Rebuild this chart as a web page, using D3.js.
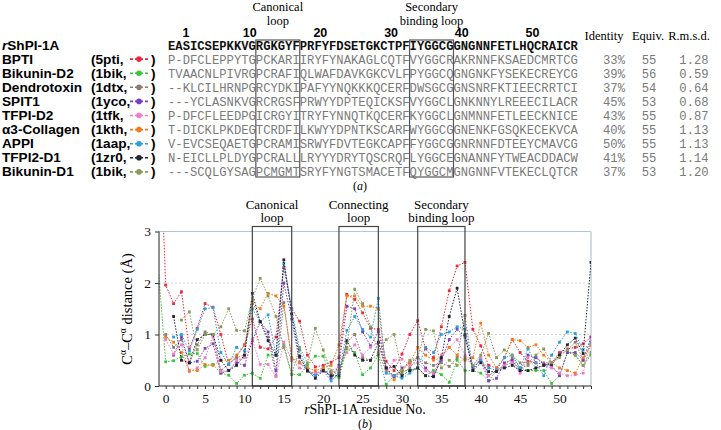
<!DOCTYPE html>
<html><head><meta charset="utf-8">
<script src="https://cdn.jsdelivr.net/npm/d3@7"></script>
<style>body{margin:0;background:#fff} svg{display:block}</style>
</head><body><svg id="c" width="721" height="430"></svg>
<script>
// ---------- data ----------
const names = ["BPTI","Bikunin-D2","Dendrotoxin","SPIT1","TFPI-D2","α3-Collagen","APPI","TFPI2-D1","Bikunin-D1"];
const pdbCodes = ["5pti","1bik","1dtx","1yco","1tfk","1kth","1aap","1zr0","1bik"];
const seriesColors = ["#e8283c","#3cc23c","#8b7d6b","#7a3fc0","#f07ac8","#f07a1e","#2a9fe0","#1e2430","#8a9a5b"];
const refName = "ShPI-1A";
const refSeq = "EASICSEPKKVGRGKGYFPRFYFDSETGKCTPFIYGGCGGNGNNFETLHQCRAICR";
const seqs = [
 "P-DFCLEPPYTGPCKARIIRYFYNAKAGLCQTFVYGGCRAKRNNFKSAEDCMRTCG",
 "TVAACNLPIVRGPCRAFIQLWAFDAVKGKCVLFPYGGCQGNGNKFYSEKECREYCG",
 "--KLCILHRNPGRCYDKIPAFYYNQKKKQCERFDWSGCGGNSNRFKTIEECRRTCI",
 "---YCLASNKVGRCRGSFPRWYYDPTEQICKSFVYGGCLGNKNNYLREEECILACR",
 "P-DFCFLEEDPGICRGYITRYFYNNQTKQCERFKYGGCLGNMNNFETLEECKNICE",
 "T-DICKLPKDEGTCRDFILKWYYDPNTKSCARFWYGGCGGNENKFGSQKECEKVCA",
 "V-EVCSEQAETGPCRAMISRWYFDVTEGKCAPFFYGGCGGNRNNFDTEEYCMAVCG",
 "N-EICLLPLDYGPCRALLLRYYYDRYTQSCRQFLYGGCEGNANNFYTWEACDDACW",
 "---SCQLGYSAGPCMGMTSRYFYNGTSMACETFQYGGCMGNGNNFVTEKECLQTCR"
];
const identity = ["33%","39%","37%","45%","43%","40%","50%","41%","37%"];
const equiv = ["55","56","54","53","55","55","55","55","53"];
const rmsd = ["1.28","0.59","0.64","0.68","0.87","1.13","1.13","1.14","1.20"];
const seqNumbers = [1,10,20,30,40,50];
const seqLoops = [{label:["Canonical","loop"], from:13, to:18},{label:["Secondary","binding loop"], from:34, to:39}];

const residues = d3.range(-1, 55);
const s_BPTI = [6.0, 1.96,1.6,1.83,0.72,1.12,1.6,1.53,1.0,0.42,0.58, 0.8,1.3,0.75,0.72,0.95,2.3,1.5,1.26,0.6,0.37, 0.4,0.46,0.55,1.78,1.68,1.42,1.12,1.1,0.48,0.3, 0.62,1.0,1.27,0.72,0.55,1.15,1.85,2.33,2.4,1.1, 0.78,0.4,0.35,0.55,0.9,0.65,0.48,0.45,0.42,0.45, 0.65,0.72,0.75,0.82,0.95];
const s_BikD2 = [2.4, 0.47,0.49,0.57,0.62,0.63,0.38,0.42,0.25,0.21,0.05, 0.21,0.25,0.15,0.6,0.6,0.8,0.23,0.22,0.4,0.58, 0.58,0.2,0.16,0.72,0.65,0.22,0.35,0.6,0.03,0.2, 0.3,0.3,0.35,0.2,0.3,0.22,0.07,0.5,0.3,0.3, 0.25,0.1,0.3,0.4,0.45,0.35,0.3,0.3,0.3,0.05, 0.2,0.65,0.6,0.4,0.65];
const s_Dendro = [null, 1.0,0.75,0.9,0.45,0.8,1.05,1.0,0.3,0.42,0.55, 0.6,1.65,1.25,0.95,0.2,1.62,0.5,0.55,0.28,0.25, 0.3,0.25,0.25,0.85,1.0,0.55,0.5,0.62,0.3,0.2, 0.25,0.35,0.55,0.45,0.4,0.45,0.38,0.55,1.37,0.3, 0.55,0.2,0.3,0.4,0.55,0.35,0.4,0.55,0.45,0.45, 0.6,0.7,0.85,0.5,0.8];
const s_SPIT1 = [null, null,0.6,0.95,0.45,0.48,0.73,0.82,0.25,0.3,0.45, 0.4,0.88,1.25,1.05,0.3,2.0,1.3,0.45,0.3,0.2, 0.35,0.15,0.4,1.55,1.5,1.05,0.78,1.05,0.35,0.18, 0.35,0.45,0.55,0.35,0.2,0.5,0.9,1.1,0.95,0.35, 0.5,0.1,0.15,0.45,0.5,0.3,0.6,0.55,0.42,0.4, 0.2,0.65,0.65,0.5,0.95];
const s_TFPID2 = [null, 0.9,0.62,0.8,0.28,0.35,0.55,0.95,0.28,0.3,0.5, 0.55,0.9,0.42,0.42,0.18,0.85,0.5,0.35,0.3,0.25, 0.28,0.3,0.35,0.65,0.8,0.6,0.75,0.85,0.25,0.5, 0.52,0.4,0.45,0.3,0.25,0.6,0.75,0.9,0.6,0.4, 0.55,0.2,0.3,0.4,0.45,0.25,0.55,0.35,0.4,0.35, 0.25,0.2,0.22,0.25,0.9];
const s_Coll = [null, 0.95,0.85,0.65,0.3,0.3,0.42,0.4,0.5,0.5,0.6, 0.78,1.6,1.5,1.8,1.75,1.55,0.55,0.45,0.35,0.3, 0.35,0.4,0.8,1.75,1.75,1.55,1.55,1.5,0.35,0.12, 0.3,0.45,0.75,0.6,0.5,0.55,0.75,0.6,0.5,0.55, 1.22,0.6,0.35,0.55,0.9,0.88,0.75,0.8,0.6,0.45, 0.35,0.3,0.25,0.55,0.8];
const s_APPI = [null, null,0.95,1.0,0.68,1.1,1.5,1.52,0.65,0.42,0.75, 0.68,1.5,1.25,1.38,0.6,2.38,1.5,0.7,0.3,0.2, 0.3,0.1,0.25,1.08,1.35,1.1,0.95,1.7,0.25,0.2, 0.15,0.25,0.35,0.75,0.65,1.0,1.05,1.15,1.1,0.38, 0.5,0.35,0.3,0.55,0.6,0.35,0.72,0.45,0.2,0.6, 0.85,1.05,1.02,0.7,0.85];
const s_TFPI2 = [null, null,1.35,0.5,0.45,0.9,1.0,1.0,0.5,0.3,0.4, 0.6,1.8,1.25,0.88,0.6,2.45,1.4,0.58,0.3,0.15, 0.3,0.2,0.2,0.88,0.6,0.5,0.5,0.85,0.35,0.38, 0.2,0.3,0.35,0.2,0.18,0.55,1.35,1.9,1.0,0.3, 0.45,0.28,0.28,0.35,0.4,0.3,0.3,0.35,0.4,0.42, 0.6,0.8,0.93,0.63,2.4];
const s_BikD1 = [null, null,null,1.28,1.44,0.7,1.0,1.0,1.15,1.5,1.08, 1.07,1.7,2.09,1.75,1.35,0.75,0.22,0.75,0.45,1.12, 0.7,0.28,0.3,0.75,1.88,1.6,1.15,0.65,0.9,1.0, 0.3,0.5,0.55,1.1,1.07,0.35,0.5,0.4,0.55,0.4, 0.6,1.02,0.55,0.7,0.6,0.45,0.45,0.6,0.72,0.45, 0.55,0.7,0.6,0.4,0.6];
const seriesValues = [s_BPTI,s_BikD2,s_Dendro,s_SPIT1,s_TFPID2,s_Coll,s_APPI,s_TFPI2,s_BikD1];
const plotLoops = [{label:["Canonical","loop"], from:11, to:16},{label:["Connecting","loop"], from:22, to:27},{label:["Secondary","binding loop"], from:32, to:38}];
const xTicks = [0,5,10,15,20,25,30,35,40,45,50];
const yTicks = [0,1,2,3];

// ---------- drawing ----------
const svg = d3.select("#c");
const SERIF = "'Liberation Serif','Times New Roman',serif";
const SANS = "'Liberation Sans',Arial,sans-serif";
const MONO = "'Liberation Mono','Courier New',monospace";

// bold label squeezed vertically: measure at 13.5px, draw at 12px stretched to that width
function boldLabel(g, xx, yy, build) {
  const t = g.append("text").attr("x", xx).attr("y", yy).attr("font-family", SANS).attr("font-weight", "bold").attr("font-size", 13.6);
  build(t);
  const w = t.node().getComputedTextLength();
  t.attr("font-size", 12).attr("textLength", w).attr("lengthAdjust", "spacingAndGlyphs");
  return t;
}

// panel (a)
const seqX0 = 168, cw = 7.32;
const rowY = k => 45 + 14.1 * k;
const charX = i => seqX0 + cw * i + cw / 2;
const a = svg.append("g");

seqLoops.forEach(l => {
  const cx = seqX0 + cw * (l.from - 1 + l.to) / 2;
  l.label.forEach((t, j) => a.append("text").attr("x", cx).attr("y", 11 + 14 * j)
    .attr("text-anchor", "middle").attr("font-family", SERIF).attr("font-size", 12.5).text(t));
});
seqNumbers.forEach(n => a.append("text").attr("x", seqX0 + cw * (n + 1.5) - n * 0.25).attr("y", 37)
  .attr("text-anchor", "middle").attr("font-family", SANS).attr("font-weight", "bold").attr("font-size", 12.5).text(n));
[["Identity", 604], ["Equiv.", 648], ["R.m.s.d.", 689]].forEach(([t, x]) =>
  a.append("text").attr("x", x).attr("y", 40).attr("text-anchor", "middle").attr("font-family", SERIF).attr("font-size", 12.5).text(t));

boldLabel(a, 2, rowY(0) + 4.5, t => { t.append("tspan").attr("font-style", "italic").text("r"); t.append("tspan").text(refName); });
a.append("g").selectAll("text").data(refSeq.split("")).join("text")
  .attr("x", (d, i) => charX(i)).attr("y", rowY(0) + 4.5).attr("text-anchor", "middle")
  .attr("font-family", MONO).attr("font-weight", "bold").attr("font-size", 12.2).attr("fill", "#111").text(d => d);

names.forEach((nm, k) => {
  const y = rowY(k + 1);
  boldLabel(a, 2, y + 4.5, t => t.text(nm));
  boldLabel(a, 91, y + 4.5, t => t.text("(" + pdbCodes[k] + ","));
  a.append("line").attr("x1", 130).attr("x2", 148).attr("y1", y).attr("y2", y).attr("stroke", seriesColors[k]).attr("stroke-width", 1.6).attr("stroke-dasharray", "3,2");
  a.append("circle").attr("cx", 139).attr("cy", y).attr("r", 2.8).attr("fill", seriesColors[k]);
  boldLabel(a, 151, y + 4.5, t => t.text(")"));
  a.append("g").selectAll("text").data(seqs[k].split("")).join("text")
    .attr("x", (d, i) => charX(i)).attr("y", y + 4.5).attr("text-anchor", "middle")
    .attr("font-family", MONO).attr("font-size", 12.2).attr("fill", "#7a7a7a").text(d => d);
  [[identity[k], 614], [equiv[k], 649], [rmsd[k], 694]].forEach(([t, x]) =>
    a.append("text").attr("x", x).attr("y", y + 4.5).attr("text-anchor", "middle").attr("font-family", MONO).attr("font-size", 12.2).attr("fill", "#7a7a7a").text(t));
});
seqLoops.forEach(l => a.append("rect").attr("x", seqX0 + cw * (l.from - 1)).attr("y", 40)
  .attr("width", cw * (l.to - l.from + 1)).attr("height", 137).attr("fill", "none").attr("stroke", "#555").attr("stroke-width", 1.2));
const al = a.append("text").attr("x", 360).attr("y", 190).attr("text-anchor", "middle").attr("font-family", SERIF).attr("font-size", 12);
al.append("tspan").text("(");
al.append("tspan").attr("font-style", "italic").text("a");
al.append("tspan").text(")");

// panel (b)
const L = 159, R = 591, T = 231.5, B = 386;
const x = d3.scaleLinear().domain([-0.85, 54]).range([L, R]);
const y = d3.scaleLinear().domain([0, 3]).range([B, T]);
const b = svg.append("g");
svg.append("defs").append("clipPath").attr("id", "clip").append("rect").attr("x", L).attr("y", T).attr("width", R - L).attr("height", B - T);

[1, 2].forEach(v => b.append("line").attr("x1", L).attr("x2", R).attr("y1", y(v)).attr("y2", y(v)).attr("stroke", "#cfd6dc").attr("stroke-width", 1).attr("stroke-dasharray", "2,2"));
b.append("line").attr("x1", L).attr("x2", R).attr("y1", y(3)).attr("y2", y(3)).attr("stroke", "#b4c6ce").attr("stroke-width", 1.2);
b.append("line").attr("x1", R).attr("x2", R).attr("y1", y(3)).attr("y2", B).attr("stroke", "#b4c6ce").attr("stroke-width", 1.2);

const gS = b.append("g").attr("clip-path", "url(#clip)");
const line = d3.line().defined(d => d[1] != null).x(d => x(d[0])).y(d => y(d[1]));
seriesValues.forEach((vals, k) => {
  const pts = residues.map((r, i) => [r, vals[i]]);
  gS.append("path").datum(pts).attr("d", line).attr("fill", "none").attr("stroke", seriesColors[k])
    .attr("stroke-width", 1).attr("stroke-dasharray", "1.5,1.5");
  gS.append("g").selectAll("rect").data(pts.filter(d => d[1] != null && d[0] >= 0)).join("rect")
    .attr("x", d => x(d[0]) - 1.4).attr("y", d => y(d[1]) - 1.4).attr("width", 2.8).attr("height", 2.8).attr("fill", seriesColors[k]);
});

plotLoops.forEach(l => {
  b.append("rect").attr("x", x(l.from)).attr("y", 226.5).attr("width", x(l.to) - x(l.from)).attr("height", B - 226.5)
    .attr("fill", "none").attr("stroke", "#444").attr("stroke-width", 1.2);
  l.label.forEach((t, j) => b.append("text").attr("x", (x(l.from) + x(l.to)) / 2).attr("y", 209 + 13 * j)
    .attr("text-anchor", "middle").attr("font-family", SERIF).attr("font-size", 13).text(t));
});

const xAxis = d3.axisBottom(x).tickValues(d3.range(0, 55)).tickSize(3).tickFormat(d => xTicks.includes(d) ? d : "");
const gx = b.append("g").attr("transform", `translate(0,${B})`).call(xAxis);
gx.select(".domain").attr("d", `M${L},0H${R}`).attr("stroke", "#222");
gx.selectAll("line").attr("stroke", "#333");
gx.selectAll("text").attr("font-family", SERIF).attr("font-size", 13.5).attr("fill", "#111").attr("dy", "0.85em");
const yAxis = d3.axisLeft(y).tickValues(yTicks).tickSize(4).tickFormat(d3.format("d"));
const gy = b.append("g").attr("transform", `translate(${L},0)`).call(yAxis);
gy.select(".domain").attr("d", `M0,${B}V${T}`).attr("stroke", "#222");
gy.selectAll("line").attr("stroke", "#333");
gy.selectAll("text").attr("font-family", SERIF).attr("font-size", 13.5).attr("fill", "#111").attr("x", -8);

const xl = b.append("text").attr("x", 365).attr("y", 414).attr("text-anchor", "middle").attr("font-family", SERIF).attr("font-size", 14);
xl.append("tspan").attr("font-style", "italic").text("r");
xl.append("tspan").text("ShPI-1A residue No.");
const bl = b.append("text").attr("x", 365).attr("y", 428).attr("text-anchor", "middle").attr("font-family", SERIF).attr("font-size", 12);
bl.append("tspan").text("(");
bl.append("tspan").attr("font-style", "italic").text("b");
bl.append("tspan").text(")");
const yl = b.append("text").attr("transform", "translate(132,309) rotate(-90)").attr("text-anchor", "middle").attr("font-family", SERIF).attr("font-size", 14.5);
yl.append("tspan").text("C");
yl.append("tspan").attr("font-size", 9.5).attr("dy", -6).text("α");
yl.append("tspan").attr("dy", 6).text("–C");
yl.append("tspan").attr("font-size", 9.5).attr("dy", -6).text("α");
yl.append("tspan").attr("dy", 6).text(" distance (Å)");
</script></body></html>
